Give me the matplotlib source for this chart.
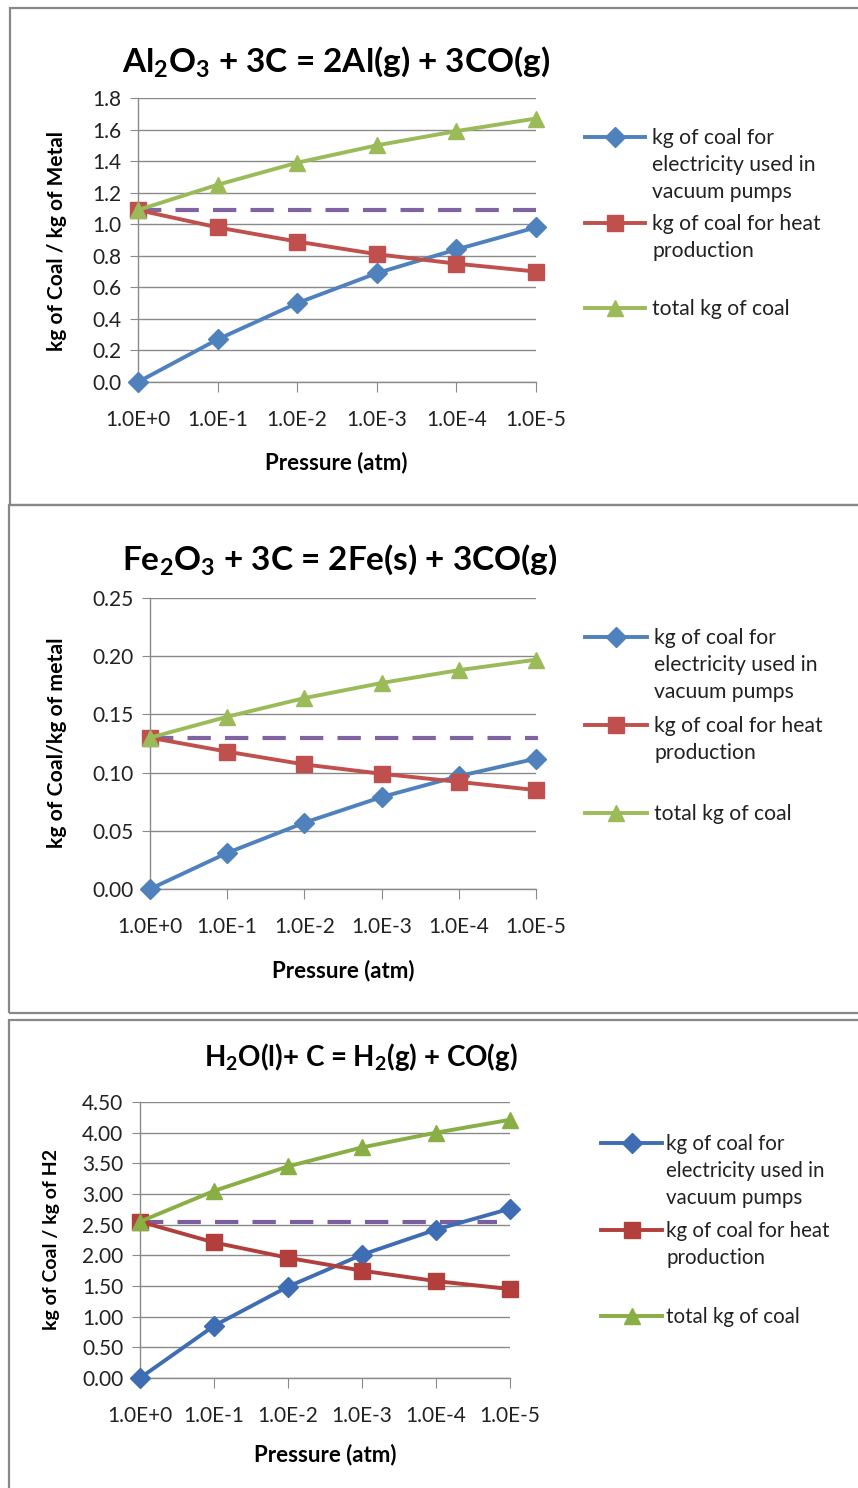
import matplotlib
matplotlib.use("Agg")
import matplotlib.pyplot as plt
from matplotlib.lines import Line2D
from matplotlib.patches import Rectangle

plt.rcParams['font.family'] = ['Lato', 'DejaVu Sans']
plt.rcParams['mathtext.fontset'] = 'custom'
plt.rcParams['mathtext.rm'] = 'Lato'
plt.rcParams['mathtext.bf'] = 'Lato:bold'
plt.rcParams['mathtext.it'] = 'Lato:italic'

W, H = 858, 1488

pressures = ["1.0E+0", "1.0E-1", "1.0E-2", "1.0E-3", "1.0E-4", "1.0E-5"]
legend_labels = ["kg of coal for\nelectricity used in\nvacuum pumps",
                 "kg of coal for heat\nproduction",
                 "total kg of coal"]

# Al2O3 reduction
al_elec = [0.0, 0.27, 0.50, 0.69, 0.84, 0.98]
al_heat = [1.09, 0.98, 0.89, 0.81, 0.75, 0.70]
al_total = [1.09, 1.25, 1.39, 1.50, 1.59, 1.67]
al_ref = 1.09

# Fe2O3 reduction
fe_elec = [0.0, 0.031, 0.057, 0.079, 0.097, 0.112]
fe_heat = [0.130, 0.118, 0.107, 0.099, 0.092, 0.085]
fe_total = [0.130, 0.148, 0.164, 0.177, 0.188, 0.197]
fe_ref = 0.130

# water gas
h2_elec = [0.0, 0.85, 1.49, 2.01, 2.42, 2.76]
h2_heat = [2.55, 2.21, 1.96, 1.75, 1.58, 1.45]
h2_total = [2.55, 3.05, 3.45, 3.76, 4.00, 4.21]
h2_ref = 2.55

fig = plt.figure(figsize=(W / 100, H / 100), dpi=100)


def fx(x):
    return x / W


def fy(y):
    return 1 - y / H


def px_axes(x0, y0, x1, y1):
    return fig.add_axes([fx(x0), fy(y1), fx(x1 - x0), (y1 - y0) / H])


# panel frames
for (x0, y0, y1) in [(10, 8, 505), (9, 505, 1013), (9, 1020, 1500)]:
    fig.add_artist(Rectangle((fx(x0), fy(y1)), fx(900 - x0), (y1 - y0) / H,
                             transform=fig.transFigure, fill=False,
                             edgecolor="#888888", linewidth=1.6))

panels = [
    dict(box=(138, 98, 536, 382), title=r"Al$_\mathbf{2}$O$_\mathbf{3}$ + 3C = 2Al(g) + 3CO(g)",
         tsize=24, tpos=(336, 62),
         ylabel="kg of Coal / kg of Metal", ysize=15, ypos=(57, 241),
         xpos=(336, 463),
         data=(al_elec, al_heat, al_total, al_ref), ref_end=5.0,
         ylim=(0, 1.8), step=0.2, fmt="{:.1f}",
         cols=("#4F81BD", "#C0504D", "#9BBB59", "#8064A2"),
         leg=(585, 645, 652, [137, 223, 308]), lsize=15.2),
    dict(box=(150, 598, 536, 889), title=r"Fe$_\mathbf{2}$O$_\mathbf{3}$ + 3C = 2Fe(s) + 3CO(g)",
         tsize=24, tpos=(340, 560),
         ylabel="kg of Coal/kg of metal", ysize=15.3, ypos=(57, 743),
         xpos=(343, 971),
         data=(fe_elec, fe_heat, fe_total, fe_ref), ref_end=5.03,
         ylim=(0, 0.25), step=0.05, fmt="{:.2f}",
         cols=("#4F81BD", "#C0504D", "#9BBB59", "#8064A2"),
         leg=(585, 647, 654, [637, 725, 813]), lsize=15.2),
    dict(box=(140, 1102, 510, 1378), title=r"H$_\mathbf{2}$O(l)+ C = H$_\mathbf{2}$(g) + CO(g)",
         tsize=20, tpos=(361, 1057),
         ylabel="kg of Coal / kg of H2", ysize=14, ypos=(52, 1240),
         xpos=(325, 1455),
         data=(h2_elec, h2_heat, h2_total, h2_ref), ref_end=4.82,
         ylim=(0, 4.5), step=0.5, fmt="{:.2f}",
         cols=("#3F6DB3", "#B23F3C", "#88AE44", "#7B5EA0"),
         leg=(601, 662, 666, [1143, 1230, 1316]), lsize=14.8),
]

markers = [("D", 10), ("s", 12), ("^", 12)]

for p in panels:
    x0, y0, x1, y1 = p["box"]
    ax = px_axes(x0, y0, x1, y1)
    elec, heat, total, ref = p["data"]
    c_e, c_h, c_t, c_r = p["cols"]
    xs = list(range(len(pressures)))

    ax.plot([0, p["ref_end"]], [ref, ref], color=c_r, lw=3, ls=(0, (5.6, 3.4)),
            clip_on=False, zorder=3)
    for vals, col, (m, ms) in zip((elec, heat, total), (c_e, c_h, c_t), markers):
        ax.plot(xs, vals, color=col, lw=2.8, marker=m, markersize=ms,
                clip_on=False, zorder=4)

    lo, hi = p["ylim"]
    n = int(round((hi - lo) / p["step"]))
    ticks = [lo + i * p["step"] for i in range(n + 1)]
    ax.set_ylim(lo, hi)
    ax.set_yticks(ticks)
    ax.set_yticklabels([p["fmt"].format(t) for t in ticks], fontsize=15, color="#222222")
    ax.set_xlim(0, 5)
    ax.set_xticks(xs)
    ax.set_xticklabels(pressures, fontsize=15, color="#222222")
    ax.grid(axis="y", color="#8a8a8a", lw=1)
    ax.set_axisbelow(True)
    for s in ("top", "right"):
        ax.spines[s].set_visible(False)
    for s in ("left", "bottom"):
        ax.spines[s].set_color("#8a8a8a")
        ax.spines[s].set_linewidth(1)
    ax.tick_params(axis="y", length=6, color="#8a8a8a", pad=6)
    ax.tick_params(axis="x", length=7, color="#8a8a8a", pad=13)

    fig.text(fx(p["xpos"][0]), fy(p["xpos"][1]), "Pressure (atm)", fontsize=16,
             fontweight="bold", ha="center", va="center")
    fig.text(fx(p["ypos"][0]), fy(p["ypos"][1]), p["ylabel"], fontsize=p["ysize"],
             fontweight="bold", ha="center", va="center", rotation=90)
    fig.text(fx(p["tpos"][0]), fy(p["tpos"][1]), p["title"], fontsize=p["tsize"],
             fontweight="bold", ha="center", va="center")

    # legend, handle aligned with first text line
    lx0, lx1, tx, ys = p["leg"]
    for lab, col, (m, ms), yy in zip(legend_labels, (c_e, c_h, c_t), markers, ys):
        fig.add_artist(Line2D([fx(lx0), fx(lx1)], [fy(yy), fy(yy)], color=col, lw=2.8,
                              transform=fig.transFigure))
        fig.add_artist(Line2D([fx((lx0 + lx1) / 2)], [fy(yy)], color=col, marker=m,
                              markersize=ms, transform=fig.transFigure))
        fig.text(fx(tx), fy(yy - 9), lab, fontsize=p["lsize"], ha="left", va="top",
                 linespacing=1.45, color="#222222")

fig.savefig("out.png", dpi=100)
